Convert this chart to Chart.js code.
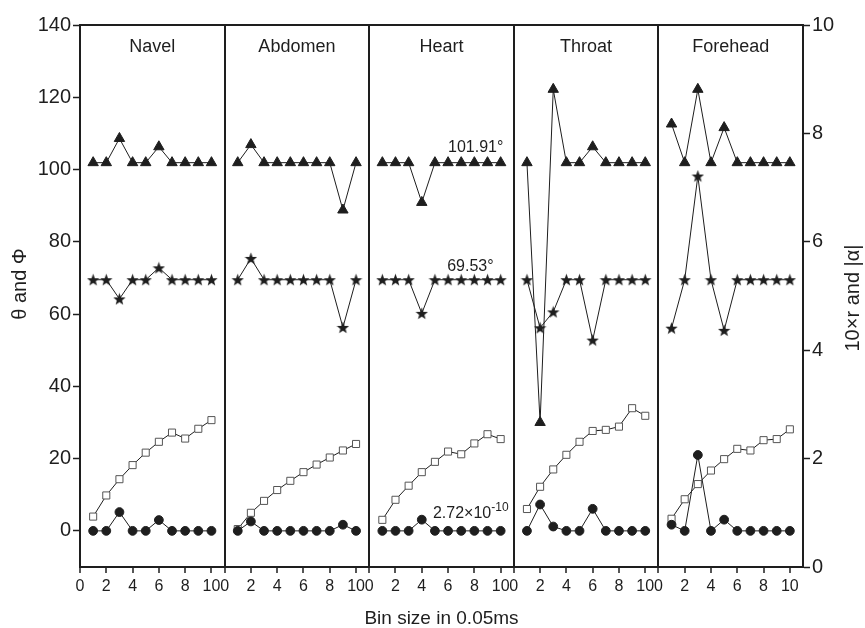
<!DOCTYPE html>
<html>
<head>
<meta charset="utf-8">
<script src="https://cdn.jsdelivr.net/npm/chart.js@4.4.1/dist/chart.umd.min.js"></script>
<style>
  html, body { margin: 0; padding: 0; background: #fff; }
  #wrap { width: 865px; height: 628px; }
</style>
</head>
<body>
<div id="wrap"><canvas id="chart"></canvas></div>
<script>
// data
const panels = ['Navel', 'Abdomen', 'Heart', 'Throat', 'Forehead'];
const binSizes = [1, 2, 3, 4, 5, 6, 7, 8, 9, 10];
const PANEL_SPAN = 11; // each panel runs 0..10 plus a small gap before the divider

// theta (triangles), left axis
const theta = [
  [101.9, 101.9, 108.6, 101.9, 101.9, 106.3, 101.9, 101.9, 101.9, 101.9],
  [101.9, 106.9, 101.9, 101.9, 101.9, 101.9, 101.9, 101.9, 88.8, 101.9],
  [101.9, 101.9, 101.9, 90.9, 101.9, 101.9, 101.9, 101.9, 101.9, 101.9],
  [101.9, 30.0, 122.2, 101.9, 101.9, 106.3, 101.9, 101.9, 101.9, 101.9],
  [112.6, 101.9, 122.2, 101.9, 111.6, 101.9, 101.9, 101.9, 101.9, 101.9]
];
// phi (stars), left axis
const phi = [
  [69.5, 69.5, 64.2, 69.5, 69.5, 72.8, 69.5, 69.5, 69.5, 69.5],
  [69.5, 75.4, 69.5, 69.5, 69.5, 69.5, 69.5, 69.5, 56.3, 69.5],
  [69.5, 69.5, 69.5, 60.2, 69.5, 69.5, 69.5, 69.5, 69.5, 69.5],
  [69.5, 56.2, 60.6, 69.5, 69.5, 52.8, 69.5, 69.5, 69.5, 69.5],
  [56.1, 69.5, 98.2, 69.5, 55.5, 69.5, 69.5, 69.5, 69.5, 69.5]
];
// 10 x r (open squares), right axis
const r10 = [
  [0.93, 1.32, 1.62, 1.88, 2.11, 2.31, 2.48, 2.37, 2.55, 2.71],
  [0.70, 1.00, 1.22, 1.42, 1.59, 1.75, 1.89, 2.02, 2.15, 2.27],
  [0.87, 1.24, 1.50, 1.75, 1.94, 2.13, 2.08, 2.28, 2.45, 2.36],
  [1.07, 1.48, 1.80, 2.07, 2.31, 2.51, 2.53, 2.59, 2.93, 2.79],
  [0.89, 1.25, 1.53, 1.78, 1.99, 2.18, 2.15, 2.34, 2.36, 2.54]
];
// |alpha| (filled circles), left axis
const alpha = [
  [0, 0, 5.2, 0, 0, 3.0, 0, 0, 0, 0],
  [0, 2.6, 0, 0, 0, 0, 0, 0, 1.7, 0],
  [0, 0, 0, 3.1, 0, 0, 0, 0, 0, 0],
  [0, 7.3, 1.2, 0, 0, 6.1, 0, 0, 0, 0],
  [1.7, 0, 21.0, 0, 3.1, 0, 0, 0, 0, 0]
];
const xTickLabels = [0, 2, 4, 6, 8, 10];
const leftTicks = [0, 20, 40, 60, 80, 100, 120, 140];
const rightTicks = [0, 2, 4, 6, 8, 10];

const FONT = '"Liberation Sans", Arial, sans-serif';
const INK = '#1e1e1e';

// filled five point star for the phi markers
function makeStar(size) {
  const c = document.createElement('canvas');
  c.width = size; c.height = size;
  const g = c.getContext('2d');
  const cx = size / 2, cy = size / 2 + 0.6, R = size / 2, r = R * 0.42;
  g.beginPath();
  for (let i = 0; i < 10; i++) {
    const rad = i % 2 === 0 ? R : r;
    const a = -Math.PI / 2 + i * Math.PI / 5;
    g.lineTo(cx + rad * Math.cos(a), cy + rad * Math.sin(a));
  }
  g.closePath();
  g.fillStyle = INK;
  g.fill();
  return c;
}
const starImg = makeStar(13);

const series = [
  { values: alpha, axis: 'y', style: 'circle', radius: 4.4, bg: INK, border: INK },
  { values: r10, axis: 'y2', style: 'rect', radius: 5, bg: '#fff', border: '#555' },
  { values: phi, axis: 'y', style: starImg, radius: 6, bg: INK, border: INK },
  { values: theta, axis: 'y', style: 'triangle', radius: 6, bg: INK, border: INK }
];

const datasets = [];
series.forEach(function (s) {
  panels.forEach(function (p, k) {
    datasets.push({
      label: p,
      data: binSizes.map((b, i) => ({ x: k * PANEL_SPAN + b, y: s.values[k][i] })),
      yAxisID: s.axis,
      borderColor: INK,
      borderWidth: 1,
      pointStyle: s.style,
      pointRadius: s.radius,
      pointBackgroundColor: s.bg,
      pointBorderColor: s.border,
      pointBorderWidth: 1,
      tension: 0
    });
  });
});

function rotatedText(ctx, text, x, y) {
  ctx.save();
  ctx.translate(x, y);
  ctx.rotate(-Math.PI / 2);
  ctx.fillText(text, 0, 0);
  ctx.restore();
}

// panel names, annotations, y titles and the top frame line
const labelsPlugin = {
  id: 'labels',
  afterDatasetsDraw(chart) {
    const ctx = chart.ctx, xs = chart.scales.x, ys = chart.scales.y;
    const area = chart.chartArea;
    ctx.save();
    ctx.strokeStyle = INK;
    ctx.lineWidth = 2;
    ctx.beginPath();
    ctx.moveTo(area.left - 1, area.top);
    ctx.lineTo(area.right + 1, area.top);
    ctx.stroke();

    ctx.fillStyle = INK;
    ctx.textAlign = 'center';
    ctx.textBaseline = 'middle';
    ctx.font = '18px ' + FONT;
    panels.forEach(function (p, k) {
      ctx.fillText(p, xs.getPixelForValue(k * PANEL_SPAN + 5.5), area.top + 22);
    });

    ctx.font = '20px ' + FONT;
    rotatedText(ctx, 'θ and Φ', 20, 284);
    rotatedText(ctx, '10×r and |α|', 853, 298);

    ctx.font = '16px ' + FONT;
    ctx.fillText('101.91°', xs.getPixelForValue(30.1), ys.getPixelForValue(106.2));
    ctx.fillText('69.53°', xs.getPixelForValue(29.7), ys.getPixelForValue(73.0));

    ctx.textAlign = 'left';
    ctx.textBaseline = 'alphabetic';
    const x0 = xs.getPixelForValue(26.85), y0 = ys.getPixelForValue(3.6);
    ctx.fillText('2.72×10', x0, y0);
    const w = ctx.measureText('2.72×10').width;
    ctx.font = '12px ' + FONT;
    ctx.fillText('-10', x0 + w, y0 - 7);
    ctx.restore();
  }
};

new Chart(document.getElementById('chart'), {
  type: 'line',
  data: { datasets: datasets },
  plugins: [labelsPlugin],
  options: {
    responsive: true,
    maintainAspectRatio: false,
    animation: false,
    layout: { padding: { top: 25, left: 0, right: 0, bottom: 0 } },
    plugins: { legend: { display: false }, tooltip: { enabled: false } },
    scales: {
      x: {
        type: 'linear',
        min: 0,
        max: PANEL_SPAN * panels.length,
        afterFit: (s) => { s.height = 61; },
        afterBuildTicks: (s) => {
          const t = [];
          panels.forEach((p, k) => {
            xTickLabels.forEach((v) => t.push({ value: k * PANEL_SPAN + v }));
          });
          t.push({ value: PANEL_SPAN * panels.length });
          s.ticks = t;
        },
        ticks: {
          color: INK,
          font: { family: FONT, size: 16 },
          padding: 4,
          maxRotation: 0,
          autoSkip: false,
          callback: (v) => {
            if (v === PANEL_SPAN * panels.length) return '';
            return String(Math.round(v - Math.floor(v / PANEL_SPAN) * PANEL_SPAN));
          }
        },
        grid: {
          color: (c) => (c.tick && c.tick.value > 0 && c.tick.value < PANEL_SPAN * panels.length && c.tick.value % PANEL_SPAN === 0) ? INK : 'rgba(0,0,0,0)',
          lineWidth: 2,
          tickColor: (c) => (c.tick && c.tick.value === PANEL_SPAN * panels.length) ? 'rgba(0,0,0,0)' : INK,
          tickWidth: 1.5,
          tickLength: 6
        },
        border: { display: true, color: INK, width: 2 },
        title: {
          display: true,
          text: 'Bin size in 0.05ms',
          color: INK,
          font: { family: FONT, size: 19 },
          padding: { top: 0, bottom: -2 }
        }
      },
      y: {
        position: 'left',
        min: -10,
        max: 140,
        afterFit: (s) => { s.width = 80; },
        afterBuildTicks: (s) => { s.ticks = leftTicks.map((v) => ({ value: v })); },
        ticks: { color: INK, font: { family: FONT, size: 20 }, padding: 2 },
        grid: { drawOnChartArea: false, tickColor: INK, tickWidth: 1.5, tickLength: 7 },
        border: { display: true, color: INK, width: 2 }
      },
      y2: {
        position: 'right',
        min: 0,
        max: 10,
        afterFit: (s) => { s.width = 62; },
        afterBuildTicks: (s) => { s.ticks = rightTicks.map((v) => ({ value: v })); },
        ticks: { color: INK, font: { family: FONT, size: 20 }, padding: 2 },
        grid: { drawOnChartArea: false, tickColor: INK, tickWidth: 1.5, tickLength: 7 },
        border: { display: true, color: INK, width: 2 }
      }
    }
  }
});
</script>
</body>
</html>
